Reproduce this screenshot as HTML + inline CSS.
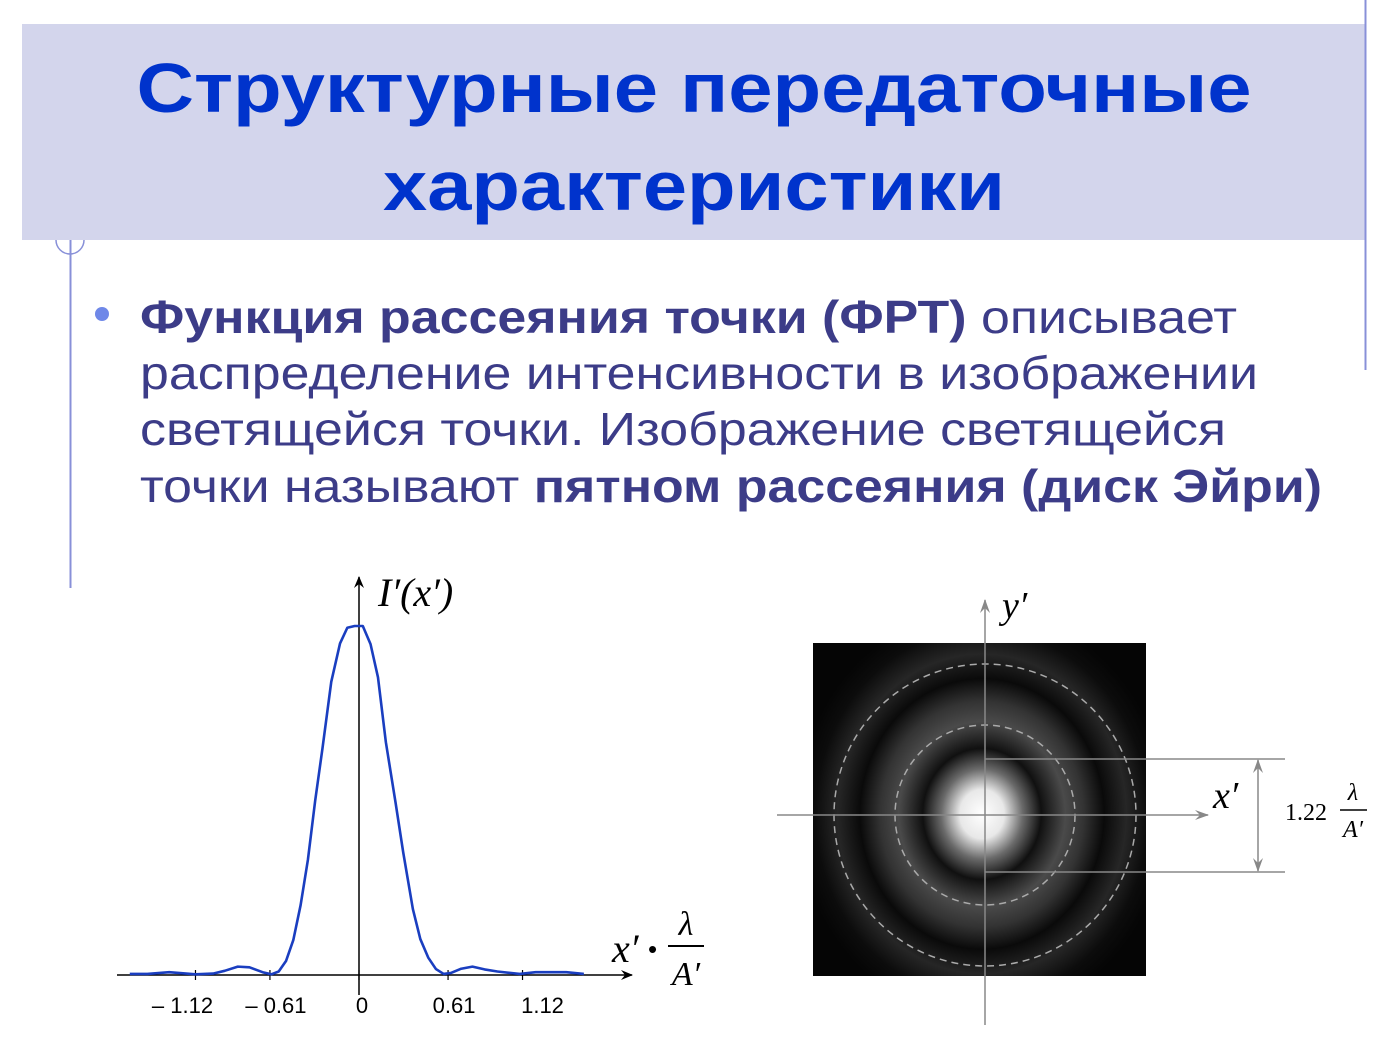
<!DOCTYPE html>
<html><head><meta charset="utf-8"><style>
html,body{margin:0;padding:0;background:#fff;}
svg{display:block;font-family:"Liberation Sans",sans-serif;}
.serif{font-family:"Liberation Serif",serif;font-style:italic;}
</style></head><body>
<svg id="page" width="1391" height="1038" viewBox="0 0 1391 1038" xmlns="http://www.w3.org/2000/svg">
<defs>
<radialGradient id="airy" cx="0.5" cy="0.5" r="0.5">
<stop offset="0" stop-color="#ffffff"/>
<stop offset="0.12" stop-color="#e8e8e8"/>
<stop offset="0.22" stop-color="#6a6a6a"/>
<stop offset="0.32" stop-color="#101010"/>
<stop offset="0.45" stop-color="#4a4a4a"/>
<stop offset="0.55" stop-color="#333"/>
<stop offset="0.66" stop-color="#0a0a0a"/>
<stop offset="0.78" stop-color="#262626"/>
<stop offset="0.9" stop-color="#0c0c0c"/>
<stop offset="1" stop-color="#050505"/>
</radialGradient>
<clipPath id="sq"><rect x="813" y="643" width="333" height="333"/></clipPath>
<marker id="arr" markerWidth="12" markerHeight="10" refX="11" refY="5" orient="auto" markerUnits="userSpaceOnUse"><path d="M0,0 L12,5 L0,10 L4,5 Z" fill="#000"/></marker>
<marker id="arrg" markerWidth="14" markerHeight="10" refX="13" refY="5" orient="auto-start-reverse" markerUnits="userSpaceOnUse"><path d="M0,0 L14,5 L0,10 L5,5 Z" fill="#888"/></marker>
</defs>
<rect x="22" y="24" width="1343" height="216" fill="#d3d5ec"/>
<line x1="1365.5" y1="0" x2="1365.5" y2="370" stroke="#8890d8" stroke-width="2"/>
<line x1="70.5" y1="240" x2="70.5" y2="588" stroke="#8890d8" stroke-width="2"/>
<path d="M56,240 A14,14 0 0 0 84,240" fill="none" stroke="#8890d8" stroke-width="1.5"/>
<g fill="#0033cc" font-weight="bold" font-size="70" text-anchor="middle">
<text x="694" y="112" textLength="1115" lengthAdjust="spacingAndGlyphs">Структурные передаточные</text>
<text x="694" y="210" textLength="622" lengthAdjust="spacingAndGlyphs">характеристики</text>
</g>
<circle cx="102" cy="314" r="7" fill="#6f88e8"/>
<g fill="#3c3c88" font-size="46">
<text x="140" y="333" textLength="1097" lengthAdjust="spacingAndGlyphs"><tspan font-weight="bold">Функция рассеяния точки (ФРТ)</tspan> описывает</text>
<text x="140" y="389" textLength="1118" lengthAdjust="spacingAndGlyphs">распределение интенсивности в изображении</text>
<text x="140" y="445" textLength="1086" lengthAdjust="spacingAndGlyphs">светящейся точки. Изображение светящейся</text>
<text x="140" y="502" textLength="1182" lengthAdjust="spacingAndGlyphs">точки называют <tspan font-weight="bold">пятном рассеяния (диск Эйри)</tspan></text>
</g>
<g id="psf"></g>
<g>
<rect x="813" y="643" width="333" height="333" fill="#050505"/>
<ellipse cx="982" cy="814" rx="185" ry="205" fill="url(#airy)" clip-path="url(#sq)"/>
<circle cx="985" cy="815" r="90" fill="none" stroke="#aaa" stroke-width="1.5" stroke-dasharray="7,5"/>
<ellipse cx="985" cy="815" rx="151" ry="151" fill="none" stroke="#aaa" stroke-width="1.5" stroke-dasharray="7,5"/>
<line x1="985" y1="1025" x2="985" y2="600" stroke="#888" stroke-width="1.5" marker-end="url(#arrg)"/>
<line x1="777" y1="815" x2="1208" y2="815" stroke="#888" stroke-width="1.5" marker-end="url(#arrg)"/>
<line x1="985" y1="759" x2="1285" y2="759" stroke="#888" stroke-width="1.5"/>
<line x1="985" y1="872" x2="1285" y2="872" stroke="#888" stroke-width="1.5"/>
<line x1="1258" y1="760" x2="1258" y2="871" stroke="#888" stroke-width="1.5" marker-start="url(#arrg)" marker-end="url(#arrg)"/>
<text class="serif" x="1002" y="618" font-size="38">y′</text>
<text class="serif" x="1213" y="808" font-size="38">x′</text>
<g font-family="Liberation Serif,serif" font-size="24">
<text x="1285" y="820">1.22</text>
<text x="1353" y="800" text-anchor="middle" font-style="italic">λ</text>
<line x1="1340" y1="810" x2="1367" y2="810" stroke="#000" stroke-width="1.5"/>
<text x="1353" y="837" text-anchor="middle" font-style="italic">A′</text>
</g>
</g>
<script>
const xs = [-1.57,-1.45,-1.3,-1.12,-1.0,-0.92,-0.83,-0.75,-0.66,-0.6,-0.55,-0.5,-0.45,-0.4,-0.35,-0.3,-0.25,-0.19,-0.13,-0.08,-0.03,0.026,0.079,0.13,0.184,0.25,0.303,0.369,0.42,0.474,0.527,0.58,0.63,0.7,0.777,0.86,0.948,1.1,1.21,1.42,1.54];
const ys = [0.003,0.003,0.008,0.002,0.004,0.012,0.024,0.022,0.008,0.002,0.01,0.04,0.1,0.2,0.33,0.5,0.65,0.84,0.95,0.995,1.0,1.0,0.948,0.853,0.667,0.495,0.351,0.189,0.103,0.05,0.017,0.003,0.006,0.018,0.024,0.016,0.01,0.003,0.008,0.008,0.003];
const tickVals = [-1.12,-0.61,0,0.61,1.12];
const tickLabels = ["– 1.12","– 0.61","0","0.61","1.12"];
const NS="http://www.w3.org/2000/svg";
const X0=359, PX=146, Y0=975, H=349;
const labelDx=[-13,6,3,6,20];
const sx=v=>X0+v*PX, sy=v=>Y0-v*H;
const g=document.getElementById('psf');
function mk(t,a){const e=document.createElementNS(NS,t);for(const k in a)e.setAttribute(k,a[k]);return e;}
const xa=mk('line',{x1:117,y1:Y0,x2:632,y2:Y0,stroke:'#000','stroke-width':1.5,'marker-end':'url(#arr)'});


g.appendChild(xa);
const ya=mk('line',{x1:X0,y1:995,x2:X0,y2:577,stroke:'#000','stroke-width':1.5,'marker-end':'url(#arr)'});


g.appendChild(ya);
tickVals.forEach((v,i)=>{
  const t=mk('line',{x1:sx(v),y1:Y0-5,x2:sx(v),y2:Y0+5,stroke:'#000','stroke-width':1.2});
  
  
  g.appendChild(t);
  const l=mk('text',{x:sx(v)+labelDx[i],y:1013,'font-size':22,'text-anchor':'middle'});
  l.textContent=tickLabels[i];
  
  
  g.appendChild(l);
});
const p=mk('polyline',{points:xs.map((x,i)=>sx(x)+','+sy(ys[i])).join(' '),fill:'none',stroke:'#1a3ec0','stroke-width':2.6,'stroke-linejoin':'round'});


g.appendChild(p);
</script>
<text class="serif" x="378" y="606" font-size="40">I′(x′)</text>
<g>
<text class="serif" x="612" y="962" font-size="40">x′</text>
<text x="648" y="958" font-size="26">•</text>
<text class="serif" x="686" y="935" font-size="34" text-anchor="middle">λ</text>
<line x1="668" y1="946" x2="704" y2="946" stroke="#000" stroke-width="2"/>
<text class="serif" x="686" y="985" font-size="34" text-anchor="middle">A′</text>
</g>
</svg>
</body></html>
